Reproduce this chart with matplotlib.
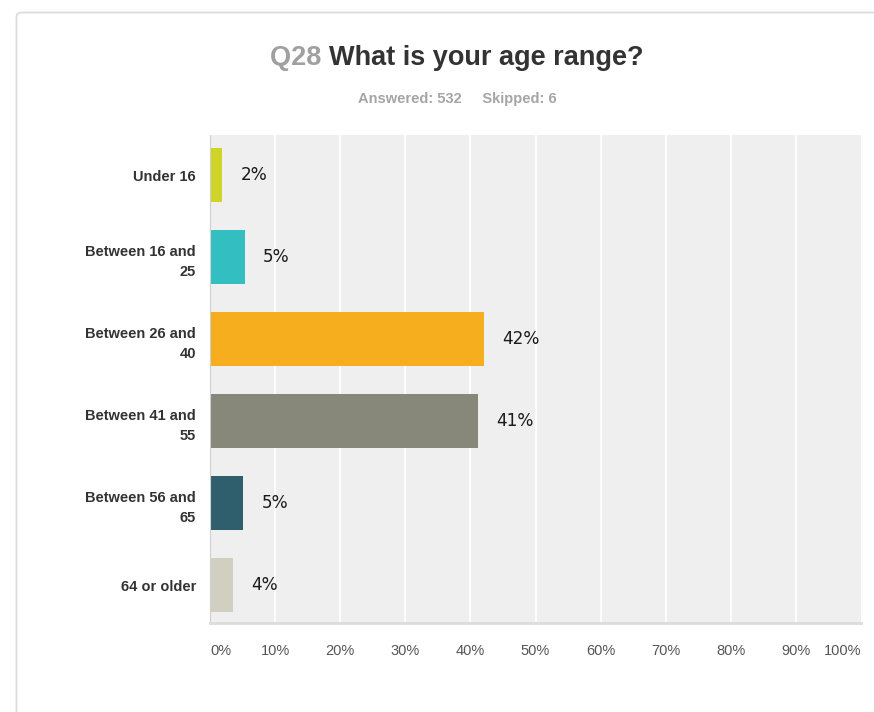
import matplotlib.pyplot as plt
from matplotlib.patches import FancyBboxPatch

# Survey answers, percent of respondents
categories = ['Under 16', 'Between 16 and\n25', 'Between 26 and\n40',
              'Between 41 and\n55', 'Between 56 and\n65', '64 or older']
percents = [1.9, 5.3, 42.1, 41.2, 5.1, 3.6]
colours = ['#d0d427', '#33bfc1', '#f6ae1e', '#87887a', '#2f5f6c', '#d1cfc0']
ticks = [0, 10, 20, 30, 40, 50, 60, 70, 80, 90, 100]
tick_labels = ['%d%%' % t for t in ticks]

W, H = 874, 712
fig = plt.figure(figsize=(W / 100, H / 100), dpi=100)
fig.patch.set_facecolor('white')

# Card outline running off the right and bottom edges
card = FancyBboxPatch((16.5 / W, -0.05), 1.0, 1 - 12.5 / H + 0.05,
                      boxstyle='round,pad=0,rounding_size=0.006',
                      transform=fig.transFigure, facecolor='white',
                      edgecolor='#dcdcdc', linewidth=1.3, zorder=-5)
fig.add_artist(card)

# Title, question number in grey
title_y = 1 - 58 / H
t1 = fig.text(0.0, title_y, 'Q28 ', fontsize=19.5, fontweight='bold', color='#a0a0a0',
              family='Liberation Sans', va='center', ha='left')
t2 = fig.text(0.0, title_y, 'What is your age range?', fontsize=19.5, fontweight='bold',
              color='#333333', family='Liberation Sans', va='center', ha='left')
fig.canvas.draw()
r = fig.canvas.get_renderer()
w1 = t1.get_window_extent(r).width
w2 = t2.get_window_extent(r).width
x0 = 457 - (w1 + w2) / 2
t1.set_x(x0 / W)
t2.set_x((x0 + w1) / W)

fig.text(457 / W, 1 - 98.5 / H, 'Answered: 532     Skipped: 6', fontsize=10.5,
         fontweight='bold', color='#a5a5a5', family='Liberation Sans',
         ha='center', va='center')

ax = fig.add_axes([210 / W, 1 - 623 / H, 651 / W, 488 / H])
ax.set_facecolor('#efefef')
ax.set_xlim(0, 100)
ax.set_ylim(5.46, -0.49)

for t in ticks[1:-1]:
    ax.axvline(t, color='white', linewidth=1.2, zorder=1)

ypos = list(range(len(categories)))
ax.barh(ypos, percents, height=0.66, color=colours, zorder=2)

for y, v in zip(ypos, percents):
    ax.text(v + 2.8, y, '%d%%' % round(v), fontsize=12.2, color='#1a1a1a',
            family='DejaVu Sans', va='center', ha='left')

ax.set_yticks(ypos)
ax.set_yticklabels(categories, fontsize=10.5, fontweight='bold', color='#333333',
                   family='Liberation Sans', linespacing=1.55)
for lab in ax.get_yticklabels():
    lab.set_multialignment('right')

ax.set_xticks(ticks)
ax.set_xticklabels(tick_labels, fontsize=10.5, color='#555555', family='Liberation Sans')
xl = ax.get_xticklabels()
xl[0].set_horizontalalignment('left')
xl[-1].set_horizontalalignment('right')

ax.tick_params(axis='both', length=0)
ax.tick_params(axis='x', pad=15)
ax.tick_params(axis='y', pad=10)

for s in ['top', 'right']:
    ax.spines[s].set_visible(False)
ax.spines['left'].set_color('#d0d0d0')
ax.spines['bottom'].set_color('#dcdcdc')
ax.spines['bottom'].set_linewidth(2)

fig.savefig('out.png', dpi=100)
